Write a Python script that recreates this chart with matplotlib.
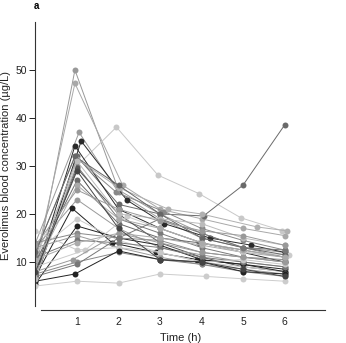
import matplotlib
matplotlib.use("Agg")
import matplotlib.pyplot as plt

plt.rcParams['font.family'] = ['Liberation Sans', 'DejaVu Sans']

# Nominal sampling times (h)
times = [0, 1, 2, 3, 4, 5, 6]

# Per-patient actual sampling times (slight deviations from nominal)
patient_times = {
    "P1":  [0, 0.95, 2.0, 3.0, 4.0, 5.0, 6.0],
    "P2":  [0, 0.95, 2.1, 3.0, 4.0, 5.0, 6.0],
    "P3":  [0, 1.0, 1.95, 2.95, 3.95, 4.95, 5.95],
    "P4":  [0, 1.0, 2.0, 3.0, 4.05, 5.0, 6.0],
    "P5":  [0, 1.05, 2.0, 3.0, 4.0, 5.0, 6.0],
    "P6":  [0, 0.95, 2.0, 3.0, 4.0, 5.0, 6.0],
    "P7":  [0, 1.1, 2.2, 3.1, 4.2, 5.2, 6.0],
    "P8":  [0, 0.95, 1.95, 3.1, 4.0, 5.0, 6.0],
    "P9":  [0, 1.0, 2.0, 3.2, 4.0, 5.34, 6.05],
    "P10": [0, 1.0, 2.0, 3.0, 4.0, 5.0, 6.0],
    "P11": [0, 1.0, 2.0, 3.0, 4.0, 5.0, 6.0],
    "P12": [0, 1.0, 2.0, 3.0, 3.95, 5.0, 6.0],
    "P13": [0, 1.0, 2.0, 3.0, 4.0, 5.0, 6.0],
    "P14": [0, 0.88, 1.85, 2.9, 3.9, 5.0, 6.0],
    "P15": [0, 1.0, 2.0, 3.0, 4.0, 5.0, 6.0],
    "P16": [0, 1.0, 2.0, 3.0, 4.0, 5.0, 6.0],
    "P17": [0, 1.0, 2.0, 3.0, 4.0, 5.0, 6.0],
    "P18": [0, 1.0, 2.0, 3.0, 4.0, 5.0, 6.0],
    "P19": [0, 1.0, 2.0, 3.0, 4.0, 5.0, 6.0],
    "P20": [0, 1.0, 2.0, 3.0, 4.0, 5.0, 6.0],
    "P21": [0, 1.0, 2.0, 3.0, 4.0, 5.0, 6.0],
    "P22": [0, 1.2, 2.2, 3.0, 4.0, 5.0, 6.1],
    "P23": [0, 1.0, 2.0, 3.0, 4.0, 5.0, 6.0],
    "P24": [0, 0.9, 2.0, 3.0, 4.0, 5.0, 6.0],
    "P25": [0, 0.95, 2.0, 3.0, 4.0, 5.0, 6.0],
    "P26": [0, 1.0, 2.0, 3.0, 4.1, 5.0, 6.0],
    "P27": [0, 0.95, 2.0, 3.0, 4.0, 5.0, 6.0],
    "P28": [0, 1.0, 2.0, 3.0, 4.0, 5.0, 6.0],
    "P29": [0, 1.0, 2.0, 3.0, 4.0, 5.0, 6.0],
    "P30": [0, 1.0, 2.0, 3.0, 4.0, 5.0, 6.0],
    "P31": [0, 1.0, 2.0, 3.0, 4.0, 5.0, 6.0],
    "P32": [0, 1.0, 2.0, 3.0, 4.0, 5.0, 6.0],
}

# Everolimus blood concentration (ug/L) per patient
concentrations = {
    "P1":  [8.0, 50.0, 25.0, 20.0, 16.0, 13.0, 11.0],
    "P2":  [10.0, 47.2, 26.0, 21.0, 19.0, 17.0, 15.5],
    "P3":  [11.0, 30.0, 38.1, 28.1, 24.2, 19.2, 16.5],
    "P4":  [7.0, 32.0, 22.0, 20.0, 19.6, 26.0, 38.5],
    "P5":  [14.0, 37.0, 24.5, 19.0, 15.0, 13.0, 12.0],
    "P6":  [7.5, 34.2, 21.0, 17.0, 14.0, 12.0, 10.0],
    "P7":  [6.0, 35.2, 22.9, 18.0, 15.0, 13.5, 12.0],
    "P8":  [12.0, 32.0, 24.5, 20.5, 17.0, 14.5, 12.5],
    "P9":  [9.0, 31.5, 25.5, 21.0, 20.0, 17.3, 16.5],
    "P10": [8.0, 30.0, 19.0, 16.0, 13.0, 11.0, 10.0],
    "P11": [7.5, 29.5, 20.0, 14.0, 11.0, 9.0, 8.0],
    "P12": [10.0, 27.0, 18.0, 15.0, 14.0, 12.5, 11.0],
    "P13": [13.0, 23.0, 17.0, 13.0, 11.5, 10.0, 9.0],
    "P14": [7.0, 21.2, 14.0, 12.0, 10.5, 9.5, 8.5],
    "P15": [12.0, 19.0, 14.5, 12.0, 10.0, 9.0, 8.0],
    "P16": [5.5, 17.5, 15.0, 13.5, 10.5, 9.5, 8.0],
    "P17": [14.0, 16.0, 15.0, 14.5, 12.0, 11.0, 10.5],
    "P18": [13.0, 15.5, 13.0, 11.0, 9.5, 8.5, 7.5],
    "P19": [11.0, 14.5, 14.0, 13.0, 11.0, 10.0, 9.0],
    "P20": [10.5, 14.0, 16.0, 15.0, 13.5, 12.0, 11.0],
    "P21": [16.5, 12.5, 13.0, 12.0, 10.0, 10.5, 9.5],
    "P22": [9.0, 12.5, 19.5, 17.0, 14.0, 12.0, 11.5],
    "P23": [7.5, 10.0, 12.0, 10.5, 9.5, 8.0, 7.0],
    "P24": [8.0, 10.5, 16.0, 14.0, 12.0, 11.0, 10.0],
    "P25": [6.0, 7.5, 12.3, 10.5, 10.0, 8.0, 7.5],
    "P26": [5.0, 6.0, 5.6, 7.5, 7.0, 6.5, 6.0],
    "P27": [12.0, 32.0, 26.0, 20.0, 15.0, 13.0, 11.5],
    "P28": [9.0, 26.0, 19.0, 17.0, 14.0, 12.5, 11.0],
    "P29": [7.0, 9.5, 15.0, 19.0, 16.0, 13.0, 12.5],
    "P30": [6.5, 31.0, 20.0, 19.0, 18.0, 15.0, 13.5],
    "P31": [8.0, 29.0, 17.0, 10.5, 10.0, 8.5, 7.0],
    "P32": [13.5, 25.0, 21.0, 18.5, 16.5, 15.5, 13.5],
}

# Grey shade per patient
shades = {
    "P1": "#999999", "P2": "#a8a8a8", "P3": "#c8c8c8", "P4": "#6a6a6a",
    "P5": "#9a9a9a", "P6": "#2a2a2a", "P7": "#2a2a2a", "P8": "#888888",
    "P9": "#b0b0b0", "P10": "#7a7a7a", "P11": "#555555", "P12": "#6a6a6a",
    "P13": "#999999", "P14": "#222222", "P15": "#cccccc", "P16": "#222222",
    "P17": "#888888", "P18": "#9a9a9a", "P19": "#777777", "P20": "#aaaaaa",
    "P21": "#c8c8c8", "P22": "#cccccc", "P23": "#888888", "P24": "#999999",
    "P25": "#222222", "P26": "#cccccc", "P27": "#666666", "P28": "#aaaaaa",
    "P29": "#777777", "P30": "#bbbbbb", "P31": "#444444", "P32": "#999999",
}

x_ticks = [1, 2, 3, 4, 5, 6]
y_ticks = [10, 20, 30, 40, 50]

fig = plt.figure(figsize=(3.46, 3.43), dpi=100)
ax = fig.add_axes([0.1026, 0.0962, 0.8396, 0.8397])

for pid, vals in concentrations.items():
    ax.plot(patient_times[pid], vals, color=shades[pid], lw=0.7,
            marker='o', markersize=4.3, markeredgewidth=0, zorder=2)

ax.set_xlim(0, 7)
ax.set_ylim(0, 60)
ax.set_xticks(x_ticks)
ax.set_yticks(y_ticks)
ax.tick_params(axis='x', length=0, pad=5, labelsize=7.5, colors='#222222')
ax.tick_params(axis='y', length=4, width=0.7, pad=2, labelsize=7.5, colors='#222222')
for s in ['top', 'right']:
    ax.spines[s].set_visible(False)
ax.spines['left'].set_bounds(0.8, 60)
ax.spines['bottom'].set_bounds(0.13, 6.98)
ax.spines['left'].set_linewidth(0.8)
ax.spines['bottom'].set_linewidth(0.8)
ax.spines['left'].set_color('#333333')
ax.spines['bottom'].set_color('#333333')

ax.set_xlabel("Time (h)", fontsize=8, labelpad=4, color='#222222')
ax.set_ylabel("Everolimus blood concentration (µg/L)", fontsize=8, labelpad=3, color='#222222')

fig.text(36 / 346, 1 - 6 / 343, "a", fontsize=7, fontweight='bold', ha='center', va='center')

fig.savefig("out.png", dpi=100)
